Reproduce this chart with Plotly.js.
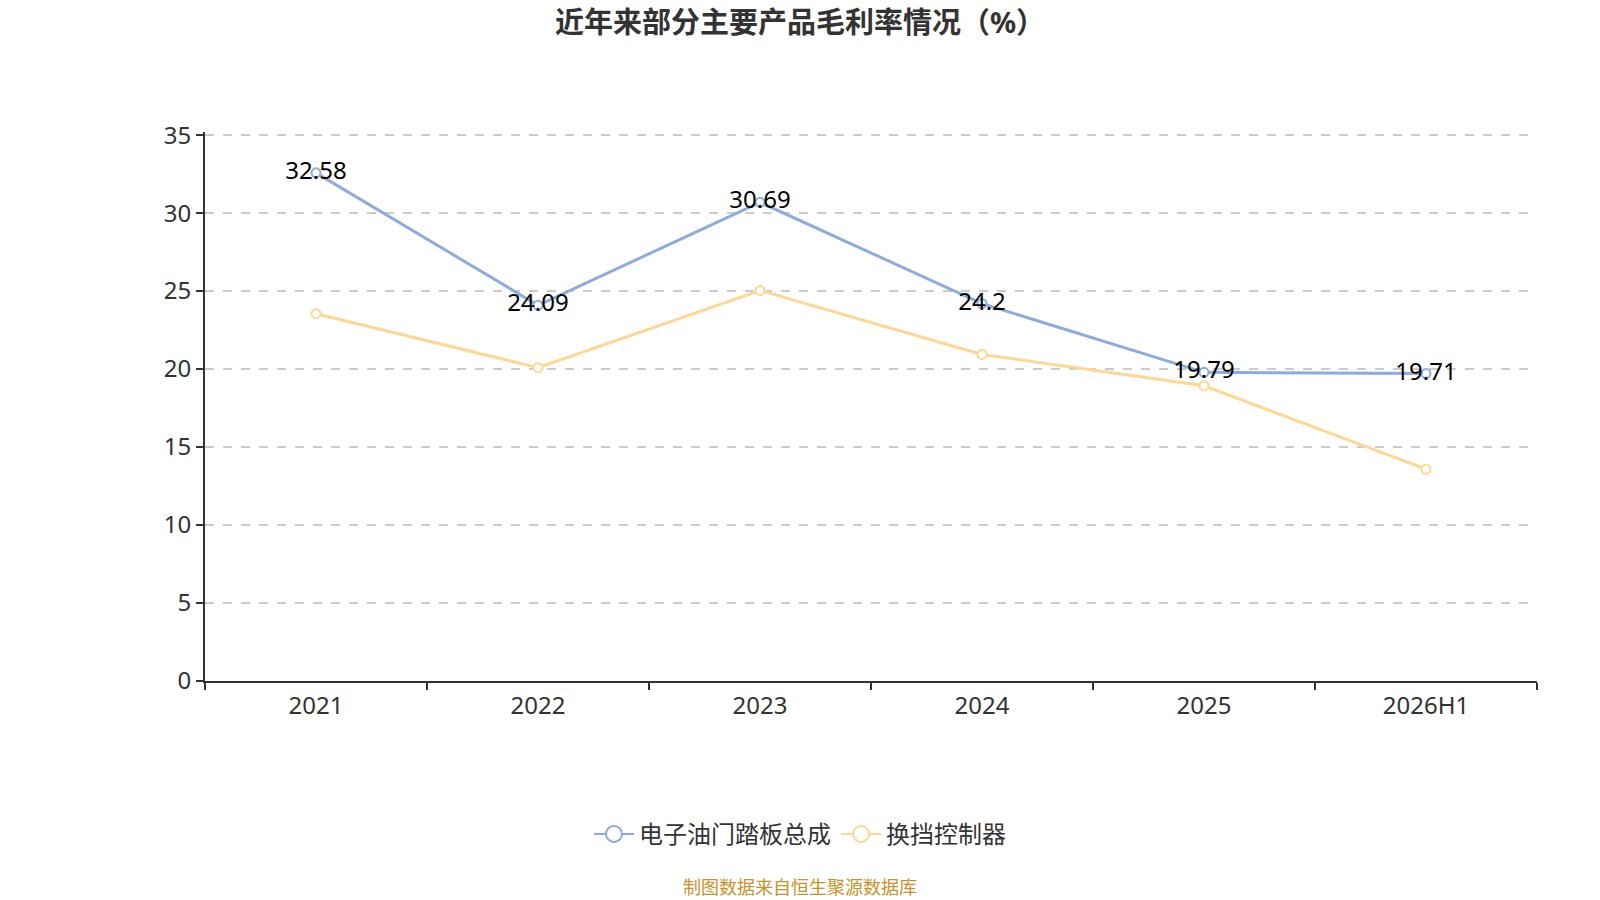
<!DOCTYPE html>
<html>
<head>
<meta charset="utf-8">
<script src="https://cdn.plot.ly/plotly-3.0.1.min.js"></script>
<style>
  html, body { margin: 0; padding: 0; background: #fff; }
  #chart { width: 1600px; height: 900px; }
</style>
</head>
<body>
<div id="chart"></div>
<script>
var anos = ['2021', '2022', '2023', '2024', '2025', '2026H1'];
var nomeSerie1 = '电子油门踏板总成';
var nomeSerie2 = '换挡控制器';
var margem1 = [32.58, 24.09, 30.69, 24.2, 19.79, 19.71];
var margem2 = [23.55, 20.09, 25.04, 20.94, 18.93, 13.58];
var yTicks = [0, 5, 10, 15, 20, 25, 30, 35];

var fonte = 'Noto Sans, Noto Sans CJK SC, sans-serif';
var cor1 = '#8dacdb';
var cor2 = '#fed893';

var data = [{
  type: 'scatter',
  mode: 'lines+markers+text',
  x: anos,
  y: margem1,
  name: nomeSerie1,
  showlegend: false,
  text: margem1.map(function (v) { return String(v); }),
  textposition: 'middle center',
  textfont: { family: fonte, size: 24, color: '#000' },
  line: { color: cor1, width: 3 },
  marker: { symbol: 'circle', size: 9, color: '#fff', line: { color: cor1, width: 2 } },
  cliponaxis: false,
  hoverinfo: 'x+y'
}, {
  type: 'scatter',
  mode: 'lines+markers',
  x: anos,
  y: margem2,
  name: nomeSerie2,
  showlegend: false,
  line: { color: cor2, width: 3 },
  marker: { symbol: 'circle', size: 9, color: '#fff', line: { color: cor2, width: 2 } },
  cliponaxis: false,
  hoverinfo: 'x+y'
}, {
  // só para a legenda (círculo maior)
  type: 'scatter', mode: 'lines+markers', x: [null], y: [null],
  name: nomeSerie1,
  line: { color: cor1, width: 2 },
  marker: { symbol: 'circle', size: 16, color: '#fff', line: { color: cor1, width: 2 } }
}, {
  type: 'scatter', mode: 'lines+markers', x: [null], y: [null],
  name: nomeSerie2,
  line: { color: cor2, width: 2 },
  marker: { symbol: 'circle', size: 16, color: '#fff', line: { color: cor2, width: 2 } }
}];

var layout = {
  width: 1600,
  height: 900,
  margin: { l: 205, r: 63, t: 132, b: 219 },
  paper_bgcolor: '#fff',
  plot_bgcolor: '#fff',
  font: { family: fonte, color: '#333' },
  title: {
    text: '<b>近年来部分主要产品毛利率情况（%）</b>',
    font: { family: fonte, size: 29, color: '#333' },
    x: 0.5, xanchor: 'center',
    y: 0.975, yanchor: 'middle', yref: 'container'
  },
  xaxis: {
    type: 'category',
    range: [-0.5, 5.5],
    showline: true, linecolor: '#333', linewidth: 2,
    ticks: 'outside', tickson: 'boundaries', ticklen: 7, tickwidth: 2, tickcolor: '#333',
    ticklabelstandoff: 2,
    showgrid: false,
    tickfont: { family: fonte, size: 24, color: '#333' },
    fixedrange: true
  },
  yaxis: {
    range: [0, 35.2],
    tickvals: yTicks,
    showline: true, linecolor: '#333', linewidth: 2,
    ticks: 'outside', ticklen: 7, tickwidth: 2, tickcolor: '#333',
    showgrid: true, gridcolor: '#cccccc', gridwidth: 1.5, griddash: 'dash',
    zeroline: false,
    tickfont: { family: fonte, size: 24, color: '#333' },
    fixedrange: true
  },
  showlegend: true,
  legend: {
    orientation: 'h',
    xref: 'container',
    x: 0.5, xanchor: 'center',
    y: 0.073, yanchor: 'middle', yref: 'container',
    font: { family: fonte, size: 24, color: '#333' },
    itemwidth: 40
  },
  annotations: [{
    text: '制图数据来自恒生聚源数据库',
    xref: 'paper', yref: 'paper',
    x: (800 - 205) / 1332, y: -0.375, xanchor: 'center', yanchor: 'middle',
    showarrow: false,
    font: { family: fonte, size: 18, color: '#c8922a' }
  }]
};

Plotly.newPlot('chart', data, layout, { displayModeBar: false });
</script>
</body>
</html>
